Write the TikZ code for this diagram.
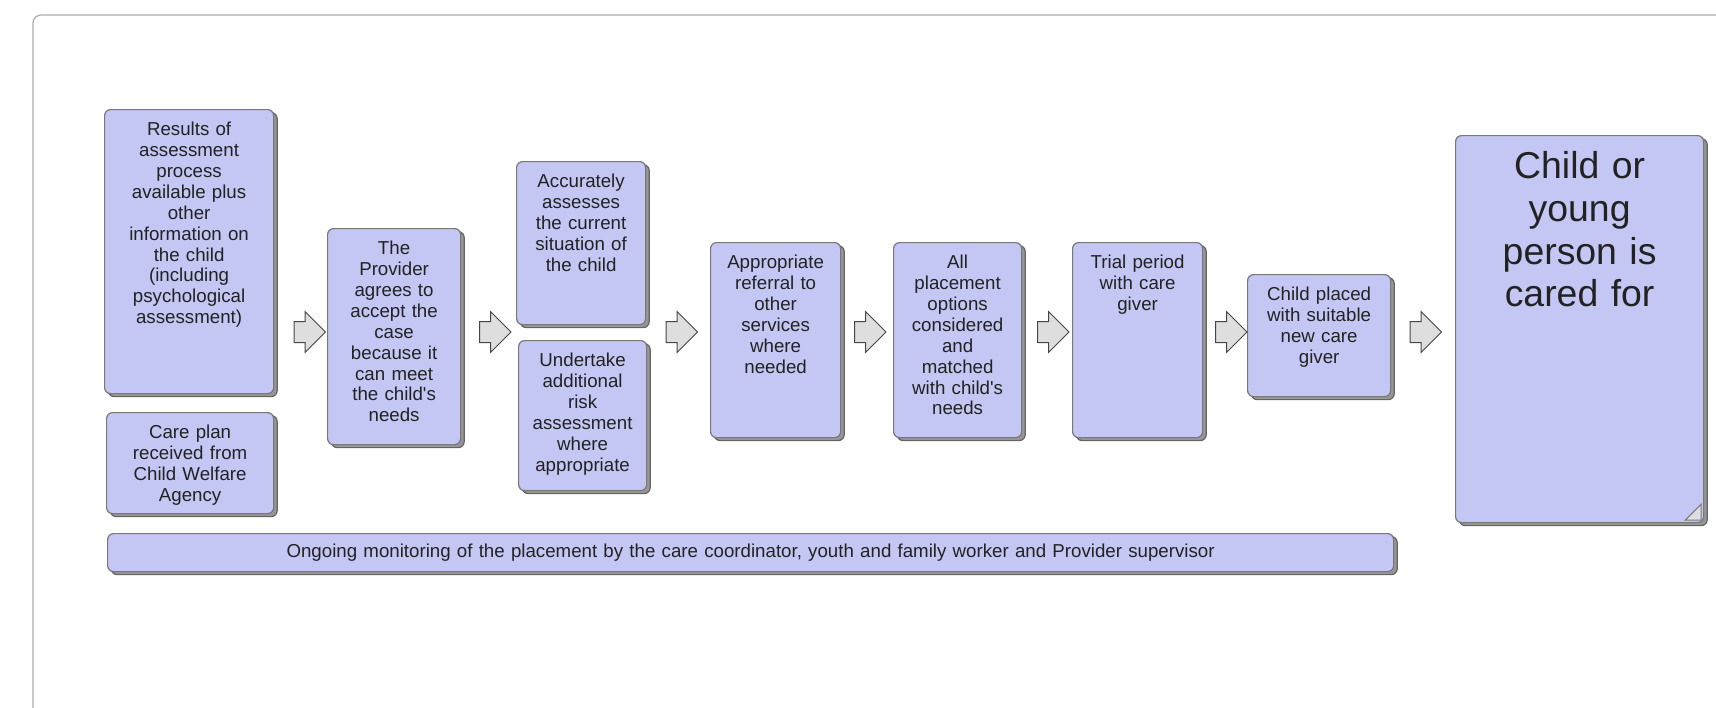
\documentclass[tikz,border=0pt]{standalone}
\usepackage{fontspec}
\setmainfont{Liberation Sans}[Ligatures=TeXOff]
\usetikzlibrary{shapes.arrows,shadows,calc}

\definecolor{boxfill}{RGB}{196,199,244}
\definecolor{boxline}{RGB}{120,120,120}
\definecolor{shadowfill}{RGB}{150,150,150}
\definecolor{shadowline}{RGB}{100,100,100}
\definecolor{arrowfill}{RGB}{222,222,222}
\definecolor{arrowline}{RGB}{70,70,70}
\definecolor{framecol}{RGB}{170,170,170}
\definecolor{textcol}{RGB}{34,34,34}

\newcommand{\boxfont}{\fontsize{9.35}{10.45}\selectfont}
\newcommand{\bigboxfont}{\fontsize{18.7}{21.35}\selectfont}

\begin{document}
\begin{tikzpicture}[x=0.5pt,y=-0.5pt,
                    box node/.style={draw=boxline,fill=boxfill,line width=0.6pt,rounded corners=3pt,
                      inner sep=0pt,anchor=north west,align=center,text=textcol,font=\boxfont,
                      text height=13pt,
                      copy shadow={shadow xshift=1.8pt,shadow yshift=-1.5pt,fill=shadowfill,draw=shadowline}},
                    arrow node/.style={single arrow,draw=arrowline,fill=arrowfill,line width=0.5pt,
                      minimum height=15.5pt,inner sep=5pt,single arrow head extend=5pt,
                      single arrow head indent=0pt}]
  \useasboundingbox (0,0) rectangle (1716,707);
  \clip (0,0) rectangle (1716,707);

  % frame
  \draw[framecol,line width=0.6pt,rounded corners=4pt] (33,760) -- (33,15) -- (1760,15);

  % boxes
  \node[box node,text width=84.5pt,text depth=129pt] (results) at (104,109)
    {Results of\\assessment\\process\\available plus\\other\\information on\\the child\\(including\\psychological\\assessment)};
  \node[box node,text width=83.5pt,text depth=37.5pt] (plan) at (106,412)
    {Care plan\\received from\\Child Welfare\\Agency};
  \node[box node,text width=66.5pt,text depth=95pt] (provider) at (327,228)
    {The\\Provider\\agrees to\\accept the\\case\\because it\\can meet\\the child's\\needs};
  \node[box node,text width=64.5pt,text depth=68.5pt] (assess) at (516,161)
    {Accurately\\assesses\\the current\\situation of\\the child};
  \node[box node,text width=64pt,text depth=62pt] (risk) at (518,340)
    {Undertake\\additional\\risk\\assessment\\where\\appropriate};
  \node[box node,text width=65pt,text depth=84.5pt] (referral) at (710,242)
    {Appropriate\\referral to\\other\\services\\where\\needed};
  \node[box node,text width=64pt,text depth=84.5pt] (options) at (893,242)
    {All\\placement\\options\\considered\\and\\matched\\with child's\\needs};
  \node[box node,text width=65pt,text depth=84.5pt] (trial) at (1072,242)
    {Trial period\\with care\\giver};
  \node[box node,text width=71.5pt,text depth=48pt] (placed) at (1247,274)
    {Child placed\\with suitable\\new care\\giver};
  \node[box node,text width=124pt,text height=21.5pt,text depth=172pt,font=\bigboxfont] (cared) at (1455,135)
    {Child or\\young\\person is\\cared for};
  \node[box node,text width=643pt,text height=12pt,text depth=7pt] (monitor) at (107,533)
    {Ongoing monitoring of the placement by the care coordinator, youth and family worker and Provider supervisor};

  % folded corner
  \filldraw[draw=boxline,fill=arrowfill,line width=0.5pt]
    ($(cared.south east)+(-19,-3)$) -- ++(16,0) -- ++(0,-16) -- cycle;

  % block arrows
  \node[arrow node] (a1) at (304.5,332) {};
  \node[arrow node] (a2) at (490,332) {};
  \node[arrow node] (a3) at (676.5,332) {};
  \node[arrow node] (a4) at (865,332) {};
  \node[arrow node] (a5) at (1048,332) {};
  \node[arrow node] (a6) at (1226,332) {};
  \node[arrow node] (a7) at (1420.5,332) {};
\end{tikzpicture}
\end{document}
